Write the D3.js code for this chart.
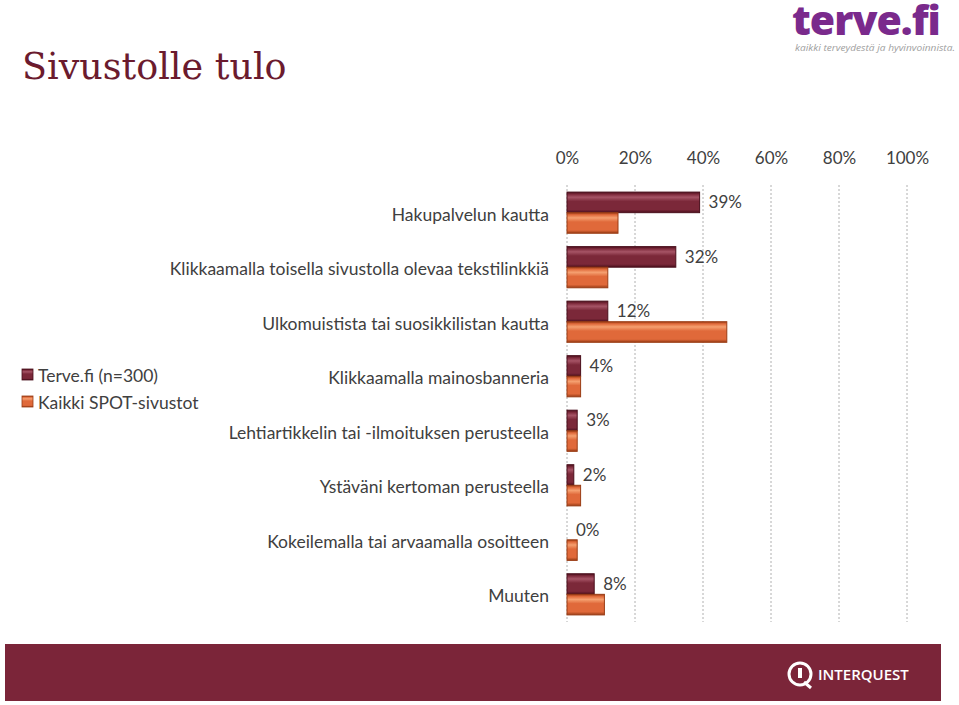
<!DOCTYPE html>
<html>
<head>
<meta charset="utf-8">
<script src="https://cdn.jsdelivr.net/npm/d3@7"></script>
<style>
  body { margin: 0; background: #fff; }
  svg { display: block; }
</style>
</head>
<body>
<script>
var W = 959, H = 705;

// data
var categories = [
  "Hakupalvelun kautta",
  "Klikkaamalla toisella sivustolla olevaa tekstilinkkiä",
  "Ulkomuistista tai suosikkilistan kautta",
  "Klikkaamalla mainosbanneria",
  "Lehtiartikkelin tai -ilmoituksen perusteella",
  "Ystäväni kertoman perusteella",
  "Kokeilemalla tai arvaamalla osoitteen",
  "Muuten"
];
var seriesNames = ["Terve.fi (n=300)", "Kaikki SPOT-sivustot"];
var terveValues = [39, 32, 12, 4, 3, 2, 0, 8];
var spotValues = [15, 12, 47, 4, 3, 4, 3, 11];
var tickValues = [0, 20, 40, 60, 80, 100];

var colors = ["#7b2839", "#e0693a"];
var hi = ["#a65466", "#f5a070"];
var dark = ["#4a0f1c", "#9a3c15"];
var FONT = "Lato, 'Open Sans', sans-serif";

var svg = d3.select("body").append("svg")
  .attr("width", W).attr("height", H);

var defs = svg.append("defs");
colors.forEach(function(c, i) {
  var g = defs.append("linearGradient")
    .attr("id", "grad" + i)
    .attr("x1", 0).attr("y1", 0).attr("x2", 0).attr("y2", 1);
  g.append("stop").attr("offset", "0%").attr("stop-color", dark[i]);
  g.append("stop").attr("offset", "10%").attr("stop-color", c);
  g.append("stop").attr("offset", "25%").attr("stop-color", hi[i]);
  g.append("stop").attr("offset", "45%").attr("stop-color", c);
  g.append("stop").attr("offset", "85%").attr("stop-color", c);
  g.append("stop").attr("offset", "100%").attr("stop-color", dark[i]);
});

// title
svg.append("text")
  .attr("x", 22).attr("y", 79)
  .attr("font-family", "'DejaVu Serif', Georgia, serif")
  .attr("font-size", 36.5)
  .attr("fill", "#6b1b2e")
  .text("Sivustolle tulo");

// terve.fi logo
svg.append("text")
  .attr("x", 792).attr("y", 35)
  .attr("font-family", "'Open Sans', sans-serif")
  .attr("font-weight", 800)
  .attr("font-size", 41)
  .attr("letter-spacing", -1)
  .attr("fill", "#7a2a8c")
  .text("terve.fi");
svg.append("text")
  .attr("x", 795).attr("y", 51)
  .attr("font-family", "'Open Sans', sans-serif")
  .attr("font-style", "italic")
  .attr("font-size", 9.5)
  .attr("textLength", 160)
  .attr("lengthAdjust", "spacingAndGlyphs")
  .attr("fill", "#a0a0a0")
  .text("kaikki terveydestä ja hyvinvoinnista.");

// scales
var x = d3.scaleLinear().domain([0, 100]).range([567, 907]);
var y = d3.scaleBand().domain(categories).range([185, 622]).paddingInner(0.245).paddingOuter(0.13);
var ySub = d3.scaleBand().domain([0, 1]).range([0, y.bandwidth()]);

// grid
svg.append("g").selectAll("line")
  .data(tickValues)
  .join("line")
  .attr("x1", d => x(d)).attr("x2", d => x(d))
  .attr("y1", 185).attr("y2", 622)
  .attr("stroke", "#b0b0b0")
  .attr("stroke-dasharray", "2,2")
  .attr("stroke-width", 1);

// top axis
var axis = d3.axisTop(x).tickValues(tickValues).tickFormat(d => d + "%").tickSize(0).tickPadding(0);
var ag = svg.append("g").attr("transform", "translate(0,164)").call(axis);
ag.select(".domain").remove();
ag.selectAll("text")
  .attr("font-family", FONT)
  .attr("font-size", 17)
  .attr("fill", "#404040");

// bars
var series = [terveValues, spotValues];
series.forEach(function(vals, si) {
  svg.append("g").selectAll("rect")
    .data(vals)
    .join("rect")
    .attr("x", x(0))
    .attr("y", (d, i) => y(categories[i]) + ySub(si))
    .attr("width", d => Math.max(0, x(d) - x(0)))
    .attr("height", ySub.bandwidth())
    .attr("fill", "url(#grad" + si + ")")
    .attr("stroke", dark[si])
    .attr("stroke-width", d => d > 0 ? 1 : 0.6);
});

// value labels (Terve.fi)
svg.append("g").selectAll("text")
  .data(terveValues)
  .join("text")
  .attr("x", d => x(d) + 9)
  .attr("y", (d, i) => y(categories[i]) + ySub(0) + ySub.bandwidth() / 2 + 6)
  .attr("font-family", FONT)
  .attr("font-size", 17)
  .attr("fill", "#404040")
  .text(d => d + "%");

// category labels
svg.append("g").selectAll("text")
  .data(categories)
  .join("text")
  .attr("x", 549)
  .attr("y", d => y(d) + y.bandwidth() / 2 + 8)
  .attr("text-anchor", "end")
  .attr("font-family", FONT)
  .attr("font-size", 17.5)
  .attr("fill", "#404040")
  .text(d => d);

// legend
var lg = svg.append("g");
seriesNames.forEach(function(n, i) {
  lg.append("rect")
    .attr("x", 22).attr("y", 369 + i * 27)
    .attr("width", 11).attr("height", 11)
    .attr("fill", "url(#grad" + i + ")")
    .attr("stroke", dark[i]).attr("stroke-width", 0.8);
  lg.append("text")
    .attr("x", 38).attr("y", 382 + i * 27)
    .attr("font-family", FONT)
    .attr("font-size", 17.5)
    .attr("fill", "#404040")
    .text(n);
});

// footer
svg.append("rect")
  .attr("x", 5).attr("y", 644)
  .attr("width", 936).attr("height", 57)
  .attr("fill", "#7b2539");
var fq = svg.append("g").attr("transform", "translate(800,674)");
fq.append("circle").attr("r", 11).attr("fill", "none").attr("stroke", "#fff").attr("stroke-width", 3);
fq.append("rect").attr("x", -2).attr("y", -6).attr("width", 4).attr("height", 10).attr("fill", "#fff");
fq.append("path").attr("d", "M4,8 L11,14").attr("stroke", "#fff").attr("stroke-width", 3);
svg.append("text")
  .attr("x", 818).attr("y", 680)
  .attr("font-family", "'Open Sans', sans-serif")
  .attr("font-weight", 600)
  .attr("font-size", 15)
  .attr("fill", "#fff")
  .text("INTERQUEST");
</script>
</body>
</html>
